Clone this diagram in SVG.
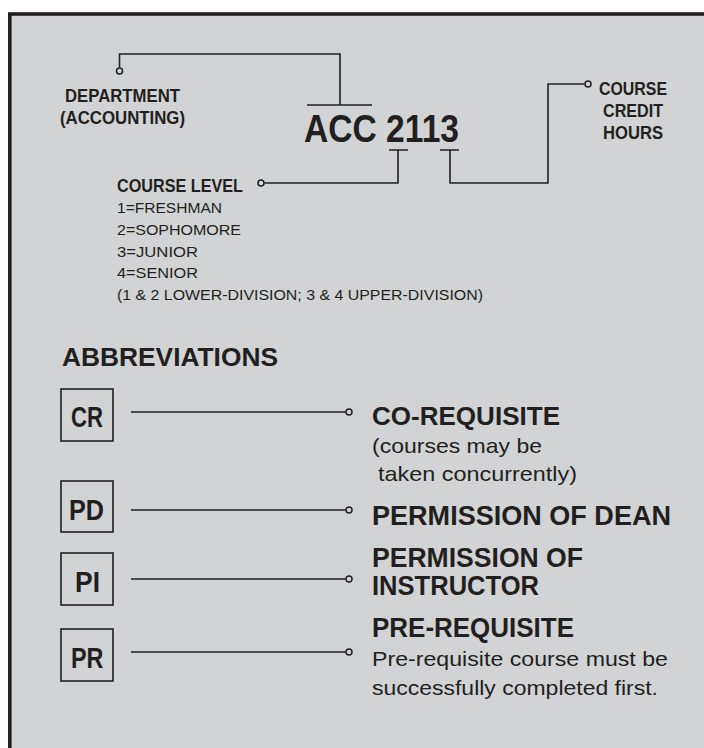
<svg xmlns="http://www.w3.org/2000/svg" width="704" height="748" viewBox="0 0 704 748">
<style>
.b{font-family:"Liberation Sans",Arial,sans-serif;font-weight:bold;fill:#231f20}
.r{font-family:"Liberation Sans",Arial,sans-serif;fill:#231f20}
.ln{fill:none;stroke:#231f20;stroke-width:1.6}
.dot{fill:#d1d3d4;stroke:#231f20;stroke-width:1.5}
.box{fill:none;stroke:#231f20;stroke-width:1.6}
</style>
<rect x="0" y="0" width="704" height="748" fill="#ffffff"/>
<rect x="9.8" y="14" width="710" height="750" fill="#d1d3d4" stroke="#231f20" stroke-width="3.6"/>

<g id="code">
<text class="b" x="304" y="142" font-size="39" textLength="155" lengthAdjust="spacingAndGlyphs">ACC 2113</text>
</g>

<g id="department">
<text class="b" x="65" y="102" font-size="18.5" textLength="115" lengthAdjust="spacingAndGlyphs">DEPARTMENT</text>
<text class="b" x="60" y="124" font-size="18.5" textLength="125" lengthAdjust="spacingAndGlyphs">(ACCOUNTING)</text>
</g>

<g id="credit-hours">
<text class="b" x="599" y="95" font-size="18.5" textLength="68" lengthAdjust="spacingAndGlyphs">COURSE</text>
<text class="b" x="603" y="117" font-size="18.5" textLength="60" lengthAdjust="spacingAndGlyphs">CREDIT</text>
<text class="b" x="603" y="139" font-size="18.5" textLength="60" lengthAdjust="spacingAndGlyphs">HOURS</text>
</g>

<g id="course-level">
<text class="b" x="117" y="192" font-size="18.5" textLength="126" lengthAdjust="spacingAndGlyphs">COURSE LEVEL</text>
<text class="r" x="117" y="213" font-size="15" textLength="105" lengthAdjust="spacingAndGlyphs">1=FRESHMAN</text>
<text class="r" x="117" y="235" font-size="15" textLength="124" lengthAdjust="spacingAndGlyphs">2=SOPHOMORE</text>
<text class="r" x="117" y="256.5" font-size="15" textLength="81" lengthAdjust="spacingAndGlyphs">3=JUNIOR</text>
<text class="r" x="117" y="278" font-size="15" textLength="81" lengthAdjust="spacingAndGlyphs">4=SENIOR</text>
<text class="r" x="117" y="300" font-size="15" textLength="366" lengthAdjust="spacingAndGlyphs">(1 &amp; 2 LOWER-DIVISION; 3 &amp; 4 UPPER-DIVISION)</text>
</g>

<g id="abbreviations-title">
<text class="b" x="62" y="366" font-size="26.5" textLength="216" lengthAdjust="spacingAndGlyphs">ABBREVIATIONS</text>
</g>

<g id="cr">
<rect class="box" x="61" y="389" width="52" height="52"/>
<text class="b" x="71" y="427" font-size="29" textLength="32" lengthAdjust="spacingAndGlyphs">CR</text>
<text class="b" x="372" y="425" font-size="25.5" textLength="188" lengthAdjust="spacingAndGlyphs">CO-REQUISITE</text>
<text class="r" x="372" y="453" font-size="21" textLength="170" lengthAdjust="spacingAndGlyphs">(courses may be</text>
<text class="r" x="378" y="481" font-size="21" textLength="199" lengthAdjust="spacingAndGlyphs">taken concurrently)</text>
</g>

<g id="pd">
<rect class="box" x="61" y="481" width="52" height="51"/>
<text class="b" x="69" y="520" font-size="29" textLength="35" lengthAdjust="spacingAndGlyphs">PD</text>
<text class="b" x="372" y="525" font-size="27.5" textLength="299" lengthAdjust="spacingAndGlyphs">PERMISSION OF DEAN</text>
</g>

<g id="pi">
<rect class="box" x="61" y="553" width="52" height="52"/>
<text class="b" x="75" y="592" font-size="29" textLength="25" lengthAdjust="spacingAndGlyphs">PI</text>
<text class="b" x="372" y="566.5" font-size="27.5" textLength="211" lengthAdjust="spacingAndGlyphs">PERMISSION OF</text>
<text class="b" x="372" y="595" font-size="27.5" textLength="167" lengthAdjust="spacingAndGlyphs">INSTRUCTOR</text>
</g>

<g id="pr">
<rect class="box" x="61" y="629" width="52" height="52"/>
<text class="b" x="71" y="668" font-size="29" textLength="32.5" lengthAdjust="spacingAndGlyphs">PR</text>
<text class="b" x="372" y="636.5" font-size="27.5" textLength="202" lengthAdjust="spacingAndGlyphs">PRE-REQUISITE</text>
<text class="r" x="372" y="666" font-size="21" textLength="296" lengthAdjust="spacingAndGlyphs">Pre-requisite course must be</text>
<text class="r" x="372" y="695" font-size="21" textLength="286" lengthAdjust="spacingAndGlyphs">successfully completed first.</text>
</g>

<g id="connectors">
<path class="ln" d="M119.5 67.5 V54 H340 V105 M307 105 H372"/>
<circle class="dot" cx="119.5" cy="71" r="3"/>
<path class="ln" d="M264.5 183 H398 V150 M389 150 H408"/>
<circle class="dot" cx="261" cy="183" r="3"/>
<path class="ln" d="M440 150 H459 M450 150 V183 H548 V84 H584.5"/>
<circle class="dot" cx="588" cy="84" r="3"/>
<path class="ln" d="M131 412 H345.5 M131 510 H345.5 M131 579 H345.5 M131 652 H345.5"/>
<circle class="dot" cx="349" cy="412" r="3"/>
<circle class="dot" cx="349" cy="510" r="3"/>
<circle class="dot" cx="349" cy="579" r="3"/>
<circle class="dot" cx="349" cy="652" r="3"/>
</g>
</svg>
